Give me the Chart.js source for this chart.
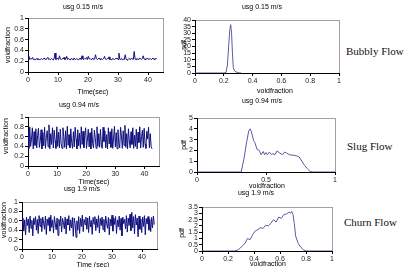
<!DOCTYPE html>
<html>
<head>
<meta charset="utf-8">
<script src="https://cdn.jsdelivr.net/npm/chart.js@4.4.0/dist/chart.umd.min.js"></script>
<style>
  body { margin: 0; background: #fff; width: 404px; height: 267px; overflow: hidden; position: relative; }
  canvas { position: absolute; }
  .flow { position: absolute; font-family: "Liberation Serif", "Times New Roman", serif; font-weight: normal; font-size: 11px; color: #111; white-space: nowrap; }
</style>
</head>
<body>
<div class="flow" style="left:346px;top:45px">Bubbly Flow</div>
<div class="flow" style="left:347px;top:140px">Slug Flow</div>
<div class="flow" style="left:344px;top:216px">Churn Flow</div>
<script>
// sample times (sec) shared by the three void fraction records
const times = [
  0,0.3,0.6,0.9,1.2,1.5,1.8,2.1,2.4,2.7,
  3,3.3,3.6,3.9,4.2,4.5,4.8,5.1,5.4,5.7,
  6,6.3,6.6,6.9,7.2,7.5,7.8,8.1,8.4,8.7,
  9,9.3,9.6,9.9,10.2,10.5,10.8,11.1,11.4,11.7,
  12,12.3,12.6,12.9,13.2,13.5,13.8,14.1,14.4,14.7,
  15,15.3,15.6,15.9,16.2,16.5,16.8,17.1,17.4,17.7,
  18,18.3,18.6,18.9,19.2,19.5,19.8,20.1,20.4,20.7,
  21,21.3,21.6,21.9,22.2,22.5,22.8,23.1,23.4,23.7,
  24,24.3,24.6,24.9,25.2,25.5,25.8,26.1,26.4,26.7,
  27,27.3,27.6,27.9,28.2,28.5,28.8,29.1,29.4,29.7,
  30,30.3,30.6,30.9,31.2,31.5,31.8,32.1,32.4,32.7,
  33,33.3,33.6,33.9,34.2,34.5,34.8,35.1,35.4,35.7,
  36,36.3,36.6,36.9,37.2,37.5,37.8,38.1,38.4,38.7,
  39,39.3,39.6,39.9,40.2,40.5,40.8,41.1,41.4,41.7,
  42,42.3,42.6,42.9,43.2,43.5,43.8,44.1,44.4,44.7
];

// usg 0.15 m/s
const bubblyVoid = [
  0.25,0.29,0.23,0.25,0.24,0.27,0.23,0.24,0.22,0.24,0.25,0.23,
  0.24,0.22,0.24,0.25,0.23,0.24,0.26,0.23,0.24,0.25,0.27,0.23,
  0.24,0.23,0.25,0.24,0.22,0.25,0.35,0.23,0.24,0.26,0.23,0.30,
  0.24,0.23,0.25,0.24,0.27,0.23,0.24,0.29,0.23,0.25,0.24,0.22,
  0.25,0.24,0.23,0.26,0.24,0.23,0.25,0.24,0.22,0.24,0.26,0.23,
  0.30,0.24,0.23,0.25,0.24,0.27,0.23,0.29,0.24,0.25,0.23,0.24,
  0.26,0.23,0.24,0.32,0.25,0.23,0.24,0.26,0.23,0.25,0.24,0.23,
  0.25,0.29,0.24,0.23,0.25,0.24,0.28,0.23,0.24,0.22,0.25,0.24,
  0.23,0.25,0.24,0.26,0.23,0.35,0.24,0.23,0.25,0.22,0.24,0.23,
  0.32,0.24,0.22,0.23,0.25,0.24,0.23,0.26,0.24,0.23,0.38,0.24,
  0.23,0.25,0.24,0.23,0.26,0.24,0.23,0.25,0.30,0.24,0.23,0.25,
  0.24,0.26,0.23,0.24,0.25,0.23,0.24,0.26,0.23,0.25,0.24,0.25
];

// usg 0.94 m/s
const slugVoid = [
  0.72,0.36,0.80,0.40,0.55,0.78,0.35,0.70,0.42,0.76,0.37,0.62,
  0.77,0.38,0.50,0.74,0.35,0.68,0.41,0.79,0.36,0.58,0.72,0.39,
  0.84,0.35,0.66,0.44,0.78,0.37,0.73,0.52,0.36,0.80,0.40,0.69,
  0.37,0.75,0.45,0.36,0.78,0.60,0.38,0.72,0.35,0.81,0.42,0.64,
  0.37,0.76,0.48,0.36,0.70,0.39,0.79,0.55,0.35,0.74,0.41,0.67,
  0.36,0.80,0.44,0.71,0.37,0.62,0.78,0.36,0.53,0.75,0.39,0.68,
  0.35,0.77,0.46,0.37,0.73,0.58,0.36,0.80,0.40,0.66,0.38,0.75,
  0.43,0.36,0.79,0.50,0.72,0.37,0.64,0.35,0.78,0.45,0.70,0.38,
  0.76,0.36,0.57,0.81,0.39,0.68,0.35,0.74,0.47,0.37,0.79,0.61,
  0.36,0.72,0.42,0.83,0.38,0.66,0.35,0.76,0.51,0.37,0.70,0.44,
  0.78,0.36,0.63,0.40,0.75,0.35,0.69,0.48,0.80,0.37,0.60,0.73,
  0.38,0.77,0.45,0.36,0.71,0.55,0.79,0.37,0.66,0.40,0.35
];

// usg 1.9 m/s
const churnVoid = [
  0.45,0.66,0.38,0.62,0.30,0.68,0.50,0.64,0.35,0.70,0.44,0.61,
  0.28,0.66,0.52,0.69,0.40,0.63,0.33,0.71,0.48,0.65,0.37,0.68,
  0.55,0.42,0.70,0.31,0.64,0.50,0.67,0.38,0.72,0.46,0.62,0.34,
  0.69,0.53,0.41,0.66,0.29,0.63,0.49,0.70,0.36,0.65,0.57,0.43,
  0.68,0.32,0.64,0.51,0.71,0.39,0.62,0.45,0.67,0.27,0.66,0.54,
  0.25,0.60,0.40,0.69,0.33,0.65,0.48,0.72,0.37,0.63,0.52,0.68,
  0.42,0.66,0.35,0.70,0.47,0.61,0.31,0.67,0.53,0.69,0.39,0.64,
  0.46,0.71,0.34,0.65,0.50,0.68,0.41,0.63,0.36,0.70,0.55,0.44,
  0.67,0.30,0.64,0.49,0.72,0.38,0.66,0.52,0.69,0.33,0.62,0.47,
  0.70,0.40,0.65,0.28,0.68,0.54,0.63,0.43,0.71,0.36,0.66,0.50,
  0.74,0.39,0.78,0.45,0.69,0.32,0.73,0.51,0.66,0.26,0.70,0.42,
  0.64,0.35,0.68,0.48,0.71,0.30,0.65,0.53,0.69,0.40,0.63,0.37,
  0.67,0.45,0.70,0.52
];

// probability density of void fraction
const bubblyPdfX = [0, 0.2, 0.215, 0.225, 0.235, 0.242, 0.248, 0.254, 0.26, 0.266, 0.275, 0.285, 0.3, 0.31, 0.32];
const bubblyPdfY = [0, 0, 0.3, 6, 22, 33, 36.5, 30, 15, 4, 1.5, 0.8, 0.3, 0.1, 0];

const slugPdfX = [0, 0.32, 0.34, 0.36, 0.375, 0.385, 0.395, 0.41, 0.42, 0.435, 0.45, 0.465, 0.48, 0.49, 0.5, 0.51, 0.525,
  0.54, 0.55, 0.565, 0.58, 0.6, 0.62, 0.635, 0.65, 0.67, 0.7, 0.72, 0.74, 0.76, 0.78, 0.8, 0.82, 0.84, 1];
const slugPdfY = [0, 0, 1.2, 2.8, 3.8, 4.0, 3.7, 2.9, 2.7, 2.1, 2.0, 1.6, 1.9, 1.6, 1.8, 1.6, 1.85,
  1.6, 1.7, 1.6, 1.95, 1.75, 1.6, 1.85, 1.75, 1.6, 1.55, 1.5, 1.4, 1.0, 0.6, 0.3, 0.05, 0, 0];

const churnPdfX = [0, 0.25, 0.28, 0.31, 0.33, 0.35, 0.37, 0.39, 0.41, 0.43, 0.45, 0.47, 0.49, 0.51, 0.53, 0.55,
  0.57, 0.59, 0.61, 0.63, 0.65, 0.67, 0.68, 0.69, 0.7, 0.71, 0.72, 0.74, 0.76, 0.78, 0.8, 1];
const churnPdfY = [0, 0, 0.1, 0.4, 0.6, 1.0, 0.9, 1.3, 1.6, 1.7, 1.85, 1.8, 2.05, 2.0, 2.2, 2.5,
  2.3, 2.7, 2.6, 2.9, 2.95, 3.1, 3.0, 3.15, 2.9, 2.2, 1.2, 0.6, 0.3, 0.1, 0, 0];

// tick labels
const timeTicks = [0, 10, 20, 30, 40];
const voidTicks = [0, 0.2, 0.4, 0.6, 0.8, 1];
const fracTicks = [0, 0.2, 0.4, 0.6, 0.8, 1];
const fracTicksHalf = [0, 0.5, 1];
const bubblyPdfTicks = [0, 5, 10, 15, 20, 25, 30, 35, 40];
const slugPdfTicks = [0, 1, 2, 3, 4, 5];
const churnPdfTicks = [0, 0.5, 1, 1.5, 2, 2.5, 3, 3.5];

const FONT = '"Liberation Sans", Arial, sans-serif';
const AXIS_W = 34, AXIS_H = 24, PAD_T = 22, PAD_R = 4;

// draws the gray plot frame and the titles / axis labels
const panelText = {
  id: 'panelText',
  beforeDraw(chart, args, o) {
    const a = chart.chartArea, ctx = chart.ctx;
    ctx.save();
    ctx.strokeStyle = '#a0a0a0';
    ctx.lineWidth = 1;
    ctx.strokeRect(Math.round(a.left) + 0.5, Math.round(a.top) + 0.5, Math.round(a.right - a.left), Math.round(a.bottom - a.top));
    ctx.restore();
  },
  afterDraw(chart, args, o) {
    const ctx = chart.ctx;
    const ox = chart.canvas.offsetLeft, oy = chart.canvas.offsetTop;
    ctx.save();
    ctx.fillStyle = '#000';
    ctx.textAlign = 'center';
    ctx.textBaseline = 'middle';
    ctx.font = '7px ' + FONT;
    ctx.fillText(o.title[0], o.title[1] - ox, o.title[2] - oy);
    ctx.fillText(o.xLabel[0], o.xLabel[1] - ox, o.xLabel[2] - oy);
    ctx.translate(o.yLabel[1] - ox, o.yLabel[2] - oy);
    ctx.rotate(-Math.PI / 2);
    ctx.fillText(o.yLabel[0], 0, 0);
    ctx.restore();
  }
};

function makePanel(box, xs, ys, xRange, xTicks, yRange, yTicks, line, texts) {
  const canvas = document.createElement('canvas');
  const w = box.R - box.L + AXIS_W + PAD_R;
  const h = box.B - box.T + PAD_T + AXIS_H;
  canvas.width = w;
  canvas.height = h;
  canvas.style.left = (box.L - AXIS_W) + 'px';
  canvas.style.top = (box.T - PAD_T) + 'px';
  document.body.appendChild(canvas);

  const points = ys.map((y, i) => ({x: xs[i], y: y}));

  const axisCommon = {
    type: 'linear',
    border: {color: '#000', width: 1},
    grid: {drawOnChartArea: false, drawTicks: true, tickLength: 3, color: '#000'},
    ticks: {
      color: '#222', font: {family: FONT, size: 7}, padding: 1, maxRotation: 0, autoSkip: false,
      callback: v => String(+v.toFixed(2))
    }
  };

  new Chart(canvas, {
    type: 'line',
    data: {
      datasets: [{
        data: points,
        borderColor: line.color,
        borderWidth: line.width,
        pointRadius: 0,
        tension: 0,
        fill: false
      }]
    },
    options: {
      responsive: false,
      animation: false,
      devicePixelRatio: 1,
      layout: {padding: {top: PAD_T, right: PAD_R, left: 0, bottom: 0}},
      plugins: {legend: {display: false}, tooltip: {enabled: false}, panelText: texts},
      scales: {
        x: Object.assign({}, axisCommon, {
          min: xRange[0], max: xRange[1],
          afterBuildTicks: s => { s.ticks = xTicks.map(v => ({value: v})); },
          afterFit: s => { s.height = AXIS_H; }
        }),
        y: Object.assign({}, axisCommon, {
          min: yRange[0], max: yRange[1],
          afterBuildTicks: s => { s.ticks = yTicks.map(v => ({value: v})); },
          afterFit: s => { s.width = AXIS_W; }
        })
      }
    },
    plugins: [panelText]
  });
}

const seriesLine = {color: '#10107e', width: 1};
const pdfLine = {color: '#5a5aa8', width: 1};

makePanel({L: 28, R: 163, T: 18, B: 72}, times, bubblyVoid, [0, 45], timeTicks, [0, 1], voidTicks, seriesLine,
  {title: ['usg 0.15 m/s', 83, 7], xLabel: ['Time(sec)', 93, 92], yLabel: ['voidfraction', 8, 45]});
makePanel({L: 195, R: 339, T: 20, B: 73}, bubblyPdfX, bubblyPdfY, [0, 1], fracTicks, [0, 40], bubblyPdfTicks, pdfLine,
  {title: ['usg 0.15 m/s', 262, 7], xLabel: ['voidfraction', 275, 91], yLabel: ['pdf', 184, 45]});

makePanel({L: 28, R: 159, T: 117, B: 166}, times, slugVoid, [0, 45], timeTicks, [0, 1], voidTicks, seriesLine,
  {title: ['usg 0.94 m/s', 79, 105], xLabel: ['Time(sec)', 94, 182], yLabel: ['voidfraction', 6, 136]});
makePanel({L: 197, R: 335, T: 118, B: 172}, slugPdfX, slugPdfY, [0, 1], fracTicksHalf, [0, 5], slugPdfTicks, pdfLine,
  {title: ['usg 0.94 m/s', 262, 101], xLabel: ['voidfraction', 267, 186], yLabel: ['pdf', 184, 145]});

makePanel({L: 22, R: 157, T: 202, B: 249}, times, churnVoid, [0, 45], timeTicks, [0, 1], voidTicks, seriesLine,
  {title: ['usg 1.9 m/s', 82, 189], xLabel: ['Time (sec)', 93, 265], yLabel: ['voidfraction', 4, 220]});
makePanel({L: 202, R: 332, T: 207, B: 251}, churnPdfX, churnPdfY, [0, 1], fracTicks, [0, 3.5], churnPdfTicks, pdfLine,
  {title: ['usg 1.9 m/s', 256, 193], xLabel: ['voidfraction', 268, 264], yLabel: ['pdf', 182, 233]});
</script>
</body>
</html>
